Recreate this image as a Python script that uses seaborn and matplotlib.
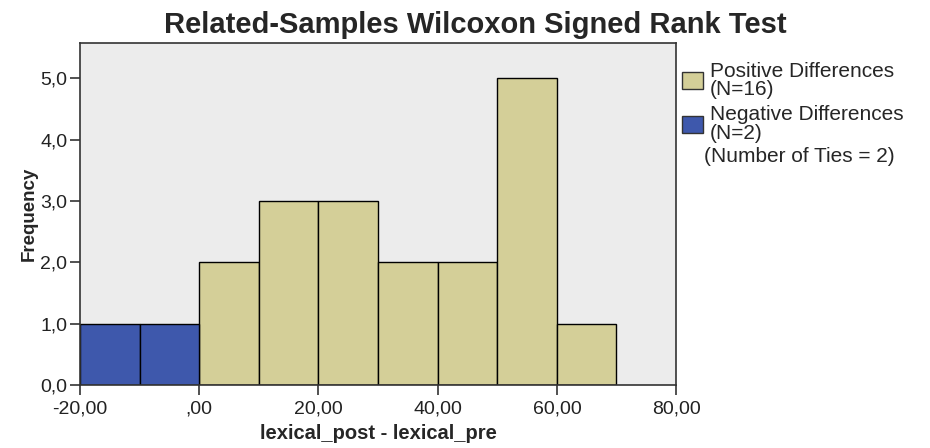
import pandas as pd
import seaborn as sns
import matplotlib.pyplot as plt
from matplotlib.patches import Patch
from matplotlib.ticker import FuncFormatter

sns.set_style("white")
plt.rcParams["font.family"] = ["Liberation Sans", "DejaVu Sans"]

# histogram bins (lower edges, width 10) and frequencies
bin_lo = [-20, -10, 0, 10, 20, 30, 40, 50, 60]
freq = [1, 1, 2, 3, 3, 2, 2, 5, 1]
group = ["Negative", "Negative", "Positive", "Positive", "Positive",
         "Positive", "Positive", "Positive", "Positive"]
edges = [-20, -10, 0, 10, 20, 30, 40, 50, 60, 70]
legend_labels = ["Positive Differences\n(N=16)", "Negative Differences\n(N=2)"]
ties_label = "(Number of Ties = 2)"

df = pd.DataFrame({"mid": [b + 5 for b in bin_lo], "count": freq, "group": group})

fig = plt.figure(figsize=(9.3, 4.48), dpi=100)
ax = fig.add_axes([0.086, 0.1406, 0.641, 0.763])
ax.set_facecolor("#ECECEC")

pal = {"Positive": "#D4CF98", "Negative": "#3E58AC"}
sns.histplot(data=df, x="mid", weights="count", hue="group", bins=edges,
             palette=pal, alpha=1, edgecolor="black", linewidth=1,
             multiple="layer", legend=False, ax=ax)

ax.set_xlim(-20, 80)
ax.set_ylim(0, 5.57)
ax.set_xticks([-20, 0, 20, 40, 60, 80])
ax.set_yticks([0, 1, 2, 3, 4, 5])


def xfmt(v, pos):
    s = f"{v:.2f}".replace(".", ",")
    return ",00" if v == 0 else s


ax.xaxis.set_major_formatter(FuncFormatter(xfmt))
ax.yaxis.set_major_formatter(FuncFormatter(lambda v, p: f"{v:.1f}".replace(".", ",")))
ax.tick_params(axis="both", length=7.5, width=1.2, color="#333333", labelsize=14,
               labelcolor="#222222", direction="out", bottom=True, left=True, pad=1.5)
ax.tick_params(axis="x", pad=4)
for side in ax.spines:
    ax.spines[side].set_color("#333333")
    ax.spines[side].set_linewidth(1.2)
ax.grid(False)

ax.set_xlabel("lexical_post - lexical_pre", fontsize=14.5, fontweight="bold", labelpad=4)
ax.set_ylabel("Frequency", fontsize=13.5, fontweight="bold", labelpad=2)
fig.text(0.511, 0.944, "Related-Samples Wilcoxon Signed Rank Test",
         ha="center", va="center", fontsize=21, fontweight="bold")

handles = [Patch(facecolor=pal["Positive"], edgecolor="#333333"),
           Patch(facecolor=pal["Negative"], edgecolor="#333333")]
leg = fig.legend(handles, legend_labels, loc="upper left",
                 bbox_to_anchor=(0.733, 0.862), frameon=False, fontsize=15,
                 handlelength=1.0, handleheight=0.9, handletextpad=0.35,
                 labelspacing=0.3, borderaxespad=0, borderpad=0)
for t in leg.get_texts():
    t.set_linespacing(0.95)
fig.text(0.757, 0.65, ties_label, ha="left", va="center", fontsize=15)

fig.savefig("out.png", dpi=100)
